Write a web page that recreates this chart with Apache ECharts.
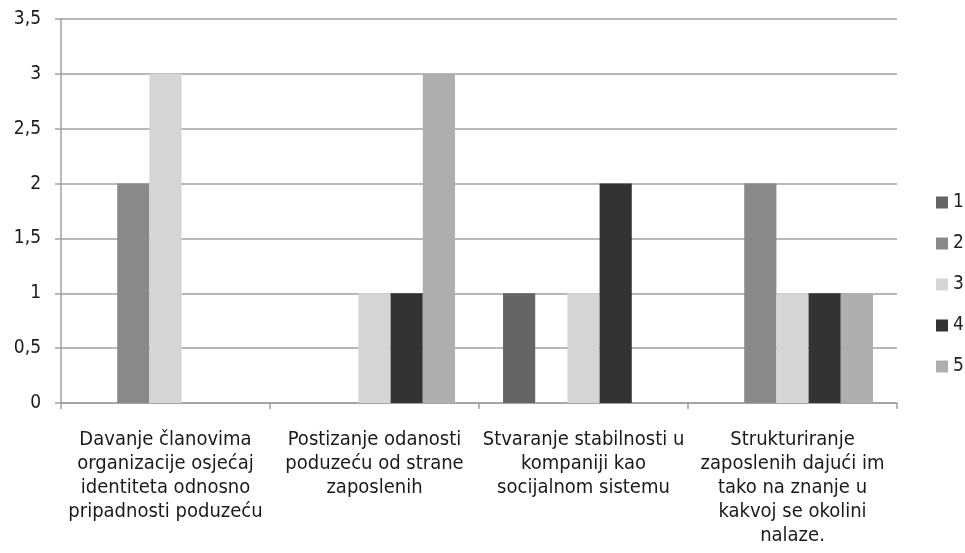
<!DOCTYPE html>
<html>
<head>
<meta charset="utf-8">
<script src="https://cdn.jsdelivr.net/npm/echarts@6/dist/echarts.min.js"></script>
<style>
html,body{margin:0;padding:0;background:#fff;}
#container{width:965px;height:553px;}
</style>
</head>
<body>
<div id="container"></div>
<script>
var categories = [
    'Davanje članovima\norganizacije osjećaj\nidentiteta odnosno\npripadnosti poduzeću',
    'Postizanje odanosti\npoduzeću od strane\nzaposlenih',
    'Stvaranje stabilnosti u\nkompaniji kao\nsocijalnom sistemu',
    'Strukturiranje\nzaposlenih dajući im\ntako na znanje u\nkakvoj se okolini\nnalaze.'
];
var seriesNames = ['1', '2', '3', '4', '5'];
var s1 = [0, 0, 1, 0];
var s2 = [2, 0, 0, 2];
var s3 = [3, 1, 1, 1];
var s4 = [0, 1, 2, 1];
var s5 = [0, 3, 0, 1];
var colors = ['#656565', '#88898b', '#d4d5d7', '#333333', '#adaeb0'];

var font = "'DejaVu Sans Condensed', 'Roboto', sans-serif";
var dom = document.getElementById("container");
var myChart = echarts.init(dom);
var values = [s1, s2, s3, s4, s5];
var series = [];
for (var i = 0; i < values.length; i++) {
    series.push({
        name: seriesNames[i],
        type: 'bar',
        data: values[i],
        barGap: '0%',
        barCategoryGap: '23%',
        itemStyle: {color: colors[i]}
    });
}
var option = {
    animation: false,
    color: colors,
    textStyle: {fontFamily: font},
    grid: {left: 61, right: 68, top: 19, bottom: 150},
    legend: {
        orient: 'vertical',
        left: 931,
        top: 188,
        itemWidth: 12,
        itemHeight: 12,
        itemGap: 22,
        icon: 'rect',
        textStyle: {fontSize: 19, color: '#222', fontFamily: font},
        data: seriesNames
    },
    xAxis: {
        type: 'category',
        data: categories,
        axisLine: {lineStyle: {color: '#a0a0a0', width: 1.5}},
        axisTick: {show: true, length: 6, lineStyle: {color: '#a0a0a0', width: 1.5}},
        axisLabel: {interval: 0, fontSize: 20, color: '#1a1a1a', lineHeight: 24, margin: 25, fontFamily: font}
    },
    yAxis: {
        type: 'value',
        min: 0,
        max: 3.5,
        interval: 0.5,
        axisLine: {show: true, lineStyle: {color: '#a0a0a0', width: 1.5}},
        axisTick: {show: true, length: 6, lineStyle: {color: '#a0a0a0', width: 1.5}},
        splitLine: {lineStyle: {color: '#a0a0a0', width: 1.5}},
        axisLabel: {
            fontSize: 19, color: '#1a1a1a', margin: 20, fontFamily: font,
            formatter: function (v) { return String(v).replace('.', ','); }
        }
    },
    series: series
};
myChart.setOption(option);
</script>
</body>
</html>
